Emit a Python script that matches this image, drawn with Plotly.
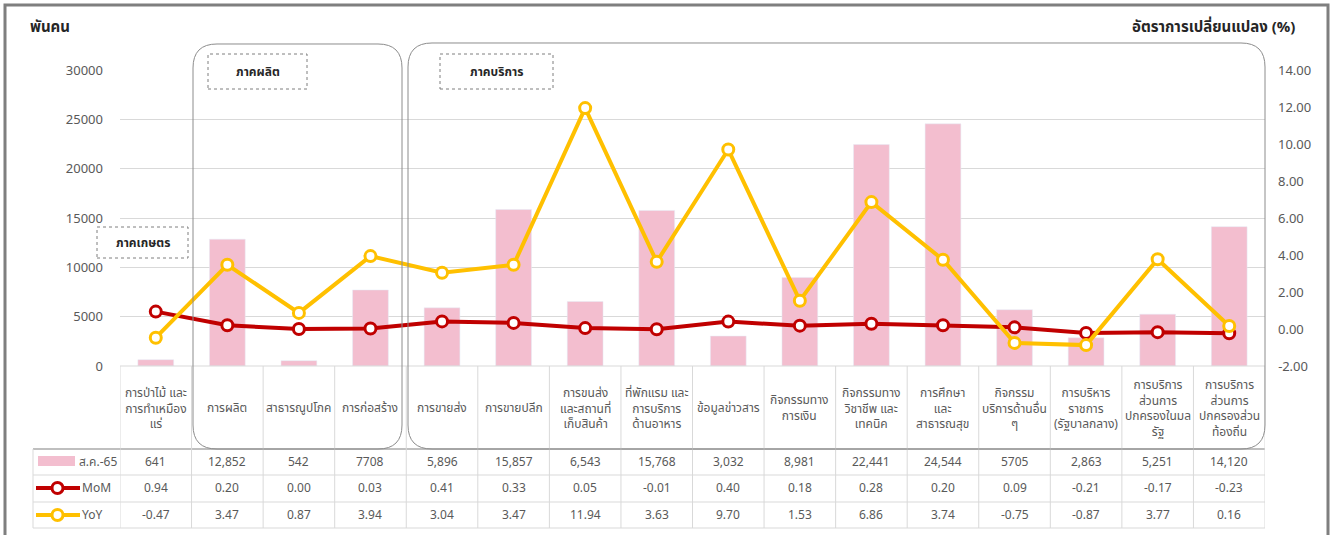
import plotly.graph_objects as go

# หมวดอุตสาหกรรม (แถวชื่อในตาราง)
categories = [
    "การป่าไม้ และ<br>การทำเหมือง<br>แร่",
    "การผลิต",
    "สาธารณูปโภค",
    "การก่อสร้าง",
    "การขายส่ง",
    "การขายปลีก",
    "การขนส่ง<br>และสถานที่<br>เก็บสินค้า",
    "ที่พักแรม และ<br>การบริการ<br>ด้านอาหาร",
    "ข้อมูลข่าวสาร",
    "กิจกรรมทาง<br>การเงิน",
    "กิจกรรมทาง<br>วิชาชีพ และ<br>เทคนิค",
    "การศึกษา<br>และ<br>สาธารณสุข",
    "กิจกรรม<br>บริการด้านอื่น<br>ๆ",
    "การบริหาร<br>ราชการ<br>(รัฐบาลกลาง)",
    "การบริการ<br>ส่วนการ<br>ปกครองในมล<br>รัฐ",
    "การบริการ<br>ส่วนการ<br>ปกครองส่วน<br>ท้องถิ่น",
]
workers = [641, 12852, 542, 7708, 5896, 15857, 6543, 15768, 3032, 8981,
           22441, 24544, 5705, 2863, 5251, 14120]
workers_text = ["641", "12,852", "542", "7708", "5,896", "15,857", "6,543", "15,768",
                "3,032", "8,981", "22,441", "24,544", "5705", "2,863", "5,251", "14,120"]
mom = [0.94, 0.20, 0.00, 0.03, 0.41, 0.33, 0.05, -0.01, 0.40, 0.18, 0.28, 0.20,
       0.09, -0.21, -0.17, -0.23]
yoy = [-0.47, 3.47, 0.87, 3.94, 3.04, 3.47, 11.94, 3.63, 9.70, 1.53, 6.86, 3.74,
       -0.75, -0.87, 3.77, 0.16]

W, H = 1335, 535
L, R, T, B = 120, 1265, 70, 366   # พื้นที่กราฟ (พิกเซล)
FONT = "Tahoma, 'Noto Sans Thai', 'Noto Sans', sans-serif"
GRAY = "#595959"
GRID = "#D9D9D9"
PINK = "#F3BECF"
RED = "#C00000"
GOLD = "#FFC000"


def px(x):
    return (x - L) / (R - L)


def py(y):
    return (B - y) / (B - T)


n = len(categories)
idx = list(range(n))

fig = go.Figure()
fig.add_trace(go.Bar(x=idx, y=workers, marker_color=PINK, width=0.5, name="ส.ค.-65"))
fig.add_trace(go.Scatter(x=idx, y=mom, yaxis="y2", mode="lines+markers", name="MoM",
                         line=dict(color=RED, width=4),
                         marker=dict(size=11, color="white", line=dict(color=RED, width=3))))
fig.add_trace(go.Scatter(x=idx, y=yoy, yaxis="y2", mode="lines+markers", name="YoY",
                         line=dict(color=GOLD, width=4),
                         marker=dict(size=11, color="white", line=dict(color=GOLD, width=3))))

shapes = []
annotations = []


def text(x, y, s, xref="paper", xanchor="center", size=12, color=GRAY):
    annotations.append(dict(x=x, y=py(y), xref=xref, yref="paper", text=s,
                            xanchor=xanchor, yanchor="middle", showarrow=False,
                            font=dict(size=size, color=color, family=FONT)))


# กรอบนอก
shapes.append(dict(type="rect", xref="paper", yref="paper", x0=px(5), x1=px(1328),
                   y0=py(540), y1=py(5), line=dict(color="#7F7F7F", width=3)))


def line(x0, y0, x1, y1, xref="paper", color=GRID, width=1):
    shapes.append(dict(type="line", xref=xref, yref="paper", x0=x0, x1=x1,
                       y0=py(y0), y1=py(y1), line=dict(color=color, width=width)))


# ตาราง
row_y = [366, 449, 475, 502, 528]
line(px(L), 366, px(R), 366)
line(px(33), 449, px(R), 449, color="#BFBFBF", width=2)
for yy in row_y[2:]:
    line(px(33), yy, px(R), yy)
line(px(33), 449, px(33), 528)
for i in range(n + 1):
    line(i - 0.5, 366, i - 0.5, 528, xref="x")

for i in idx:
    text(i, 408, categories[i], xref="x")
    text(i, 462, workers_text[i], xref="x")
    text(i, 488, f"{mom[i]:.2f}", xref="x")
    text(i, 515, f"{yoy[i]:.2f}", xref="x")

# สัญลักษณ์ในตาราง
shapes.append(dict(type="rect", xref="paper", yref="paper", x0=px(38), x1=px(75),
                   y0=py(466), y1=py(456), fillcolor=PINK, line=dict(width=0)))
for color, yy in [(RED, 488), (GOLD, 515)]:
    line(px(36), yy, px(80), yy, color=color, width=4)
    shapes.append(dict(type="circle", xref="paper", yref="paper", x0=px(52), x1=px(63),
                       y0=py(yy + 5.5), y1=py(yy - 5.5), fillcolor="white",
                       line=dict(color=color, width=3)))
text(px(77), 462, "ส.ค.-65", xanchor="left")
text(px(80), 488, "MoM", xanchor="left")
text(px(80), 515, "YoY", xanchor="left")


def rounded(x0, y0, x1, y1, r):
    pts = [
        ("M", [(x0 + r, y0)]), ("L", [(x1 - r, y0)]), ("Q", [(x1, y0), (x1, y0 + r)]),
        ("L", [(x1, y1 - r)]), ("Q", [(x1, y1), (x1 - r, y1)]), ("L", [(x0 + r, y1)]),
        ("Q", [(x0, y1), (x0, y1 - r)]), ("L", [(x0, y0 + r)]), ("Q", [(x0, y0), (x0 + r, y0)]),
    ]
    s = ""
    for cmd, ps in pts:
        s += cmd + " " + " ".join(f"{px(a):.5f},{py(b):.5f}" for a, b in ps) + " "
    return s + "Z"


for box in [(193, 44, 402, 449), (408, 43, 1265, 449)]:
    shapes.append(dict(type="path", xref="paper", yref="paper", path=rounded(*box, 24),
                       line=dict(color="#8C8C8C", width=1)))

for label, x0, y0, x1, y1 in [("ภาคผลิต", 208, 54, 307, 89), ("ภาคบริการ", 440, 54, 553, 89),
                              ("ภาคเกษตร", 97, 227, 188, 258)]:
    shapes.append(dict(type="rect", xref="paper", yref="paper", x0=px(x0), x1=px(x1),
                       y0=py(y1), y1=py(y0), line=dict(color="#7F7F7F", width=1, dash="dot")))
    text(px((x0 + x1) / 2), (y0 + y1) / 2, f"<b>{label}</b>", color="#262626")

text(px(28), 27, "<b>พันคน</b>", xanchor="left", size=15, color="#262626")
text(px(1297), 27, "<b>อัตราการเปลี่ยนแปลง (%)</b>", xanchor="right", size=15, color="#262626")

fig.update_layout(
    width=W, height=H, autosize=False,
    margin=dict(l=L, r=W - R, t=T, b=H - B, pad=0),
    paper_bgcolor="white", plot_bgcolor="white",
    showlegend=False, bargap=0.5,
    font=dict(family=FONT, color=GRAY, size=13),
    xaxis=dict(range=[-0.5, n - 0.5], showticklabels=False, showgrid=False,
               zeroline=False, showline=False),
    yaxis=dict(range=[0, 30000], dtick=5000, showgrid=True, gridcolor=GRID, gridwidth=1,
               zeroline=False, showline=False, ticklabelstandoff=16, tickformat="d"),
    yaxis2=dict(range=[-2, 14], dtick=2, overlaying="y", side="right", showgrid=False,
                zeroline=False, showline=False, tickformat=".2f", ticklabelstandoff=12),
    shapes=shapes, annotations=annotations,
)

fig.write_html("out.html", config={"displayModeBar": False},
               post_script="document.body.style.margin='0px';")
